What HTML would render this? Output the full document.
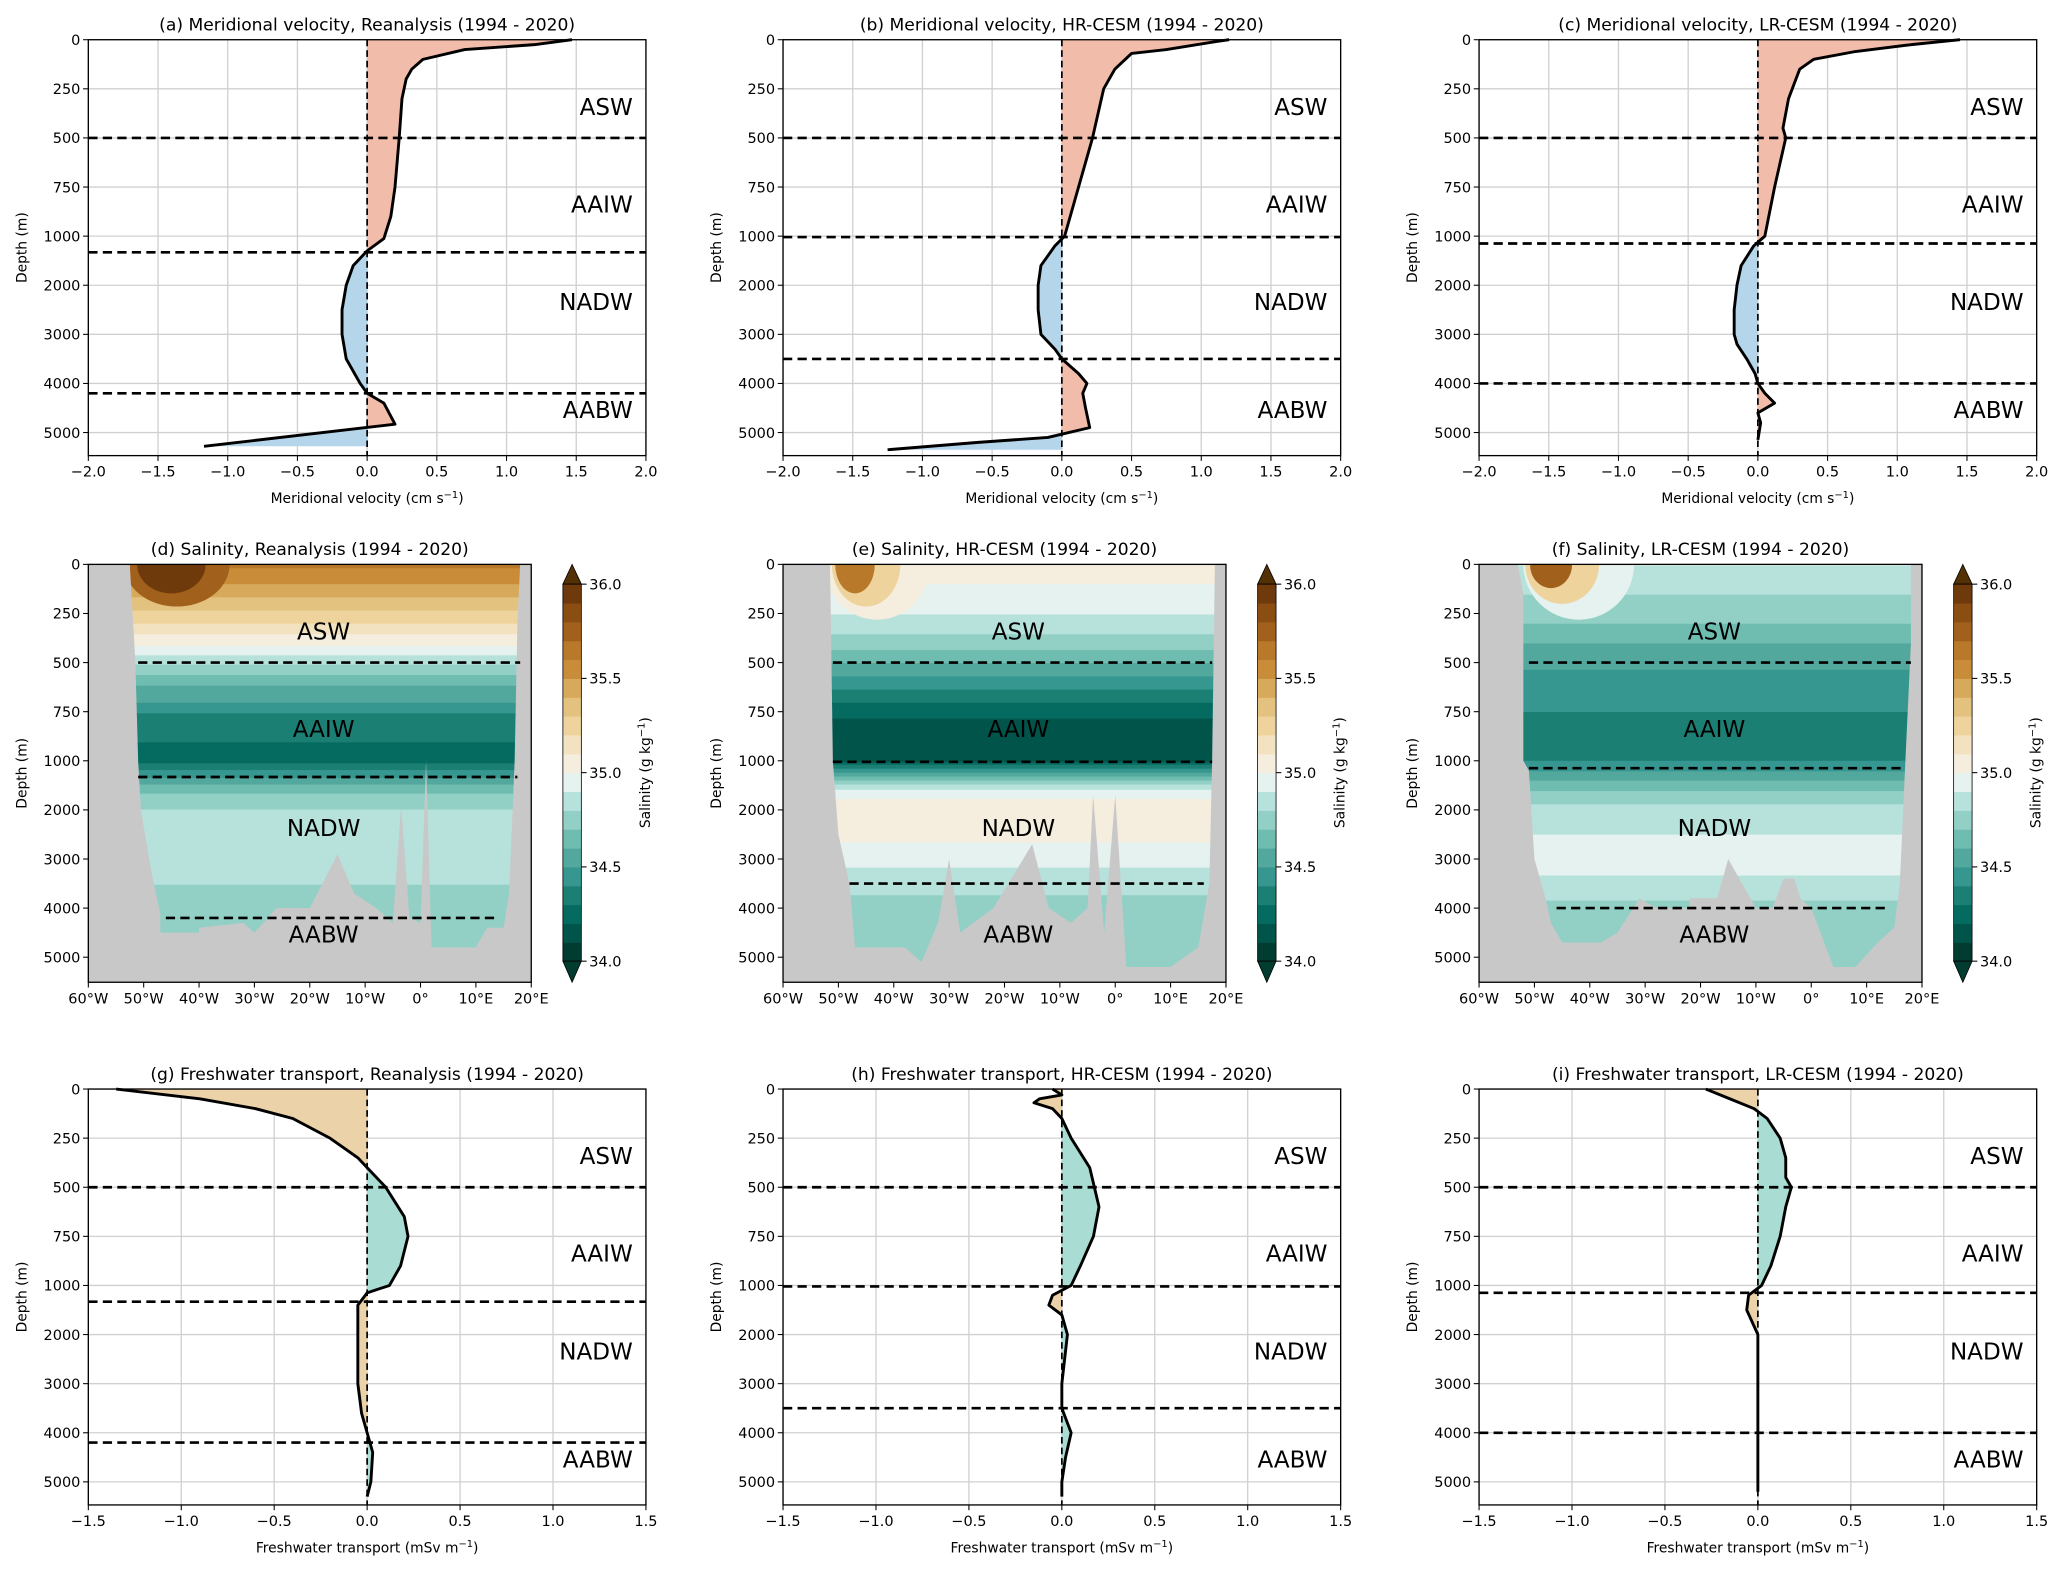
<!DOCTYPE html>
<html><head><meta charset="utf-8"><style>
html,body{margin:0;padding:0;background:#fff;}
svg{display:block;font-family:"DejaVu Sans","Liberation Sans",sans-serif;}
</style></head><body>
<svg id="fig" width="2067" height="1573" viewBox="0 0 1568 1193" xmlns="http://www.w3.org/2000/svg"></svg>
<script>
// ---------- data ----------
const velDepthA=[0,25,50,100,150,200,300,500,750,900,1050,1300,1600,2000,2500,3000,3500,4000,4200,4400,4830,5280];
const velValA=[1.47,1.2,0.7,0.4,0.32,0.28,0.25,0.23,0.2,0.17,0.12,0,-0.1,-0.15,-0.18,-0.18,-0.15,-0.05,0,0.12,0.2,-1.17];
const velDepthB=[0,10,50,70,150,250,500,750,1000,1200,1600,2000,2500,3000,3300,3500,3800,4000,4200,4500,4900,5100,5200,5350];
const velValB=[1.2,1.1,0.75,0.5,0.38,0.3,0.22,0.12,0.02,-0.05,-0.15,-0.17,-0.17,-0.15,-0.05,0,0.12,0.18,0.15,0.17,0.2,-0.1,-0.6,-1.25];
const velDepthC=[0,25,60,100,150,300,450,500,750,1000,1200,1600,2000,2500,3000,3200,3500,3800,4000,4200,4400,4600,4800,5150];
const velValC=[1.45,1.1,0.7,0.4,0.3,0.22,0.18,0.2,0.12,0.05,-0.03,-0.12,-0.15,-0.17,-0.17,-0.15,-0.08,-0.02,0,0.05,0.12,0,0.02,0];
const fwDepthG=[0,50,100,150,250,350,400,500,650,750,900,1000,1150,1400,2000,3000,3600,4000,4400,5000,5300];
const fwValG=[-1.35,-0.9,-0.6,-0.4,-0.2,-0.05,0,0.1,0.2,0.22,0.18,0.12,0,-0.05,-0.05,-0.05,-0.03,0,0.03,0.02,0];
const fwDepthH=[0,30,50,70,100,150,250,400,600,750,900,1000,1200,1400,1600,2000,3000,3500,4000,4500,5000,5300];
const fwValH=[-0.05,0,-0.12,-0.15,-0.05,0,0.05,0.15,0.2,0.17,0.1,0.05,-0.05,-0.07,0,0.03,0,0,0.05,0.02,0,0];
const fwDepthI=[0,50,100,150,250,350,450,500,600,750,900,1000,1200,1500,2000,3000,4000,5200];
const fwValI=[-0.28,-0.15,-0.02,0.05,0.12,0.15,0.15,0.18,0.15,0.12,0.07,0.02,-0.05,-0.06,0,0,0,0];
const velTicks=[-2,-1.5,-1,-0.5,0,0.5,1,1.5,2];
const fwTicks=[-1.5,-1,-0.5,0,0.5,1,1.5];
const depthTicks=[0,250,500,750,1000,2000,3000,4000,5000];
const lonTicks=[-60,-50,-40,-30,-20,-10,0,10,20];
const lonLabels=["60°W","50°W","40°W","30°W","20°W","10°W","0°","10°E","20°E"];
const cbTicks=[34.0,34.5,35.0,35.5,36.0];
const salDepthD=[0,100,200,300,400,450,500,550,600,700,800,1000,1100,1300,1500,1800,2500,3000,3500,4200,5500];
const salValD=[35.62,35.5,35.35,35.2,35.02,34.92,34.82,34.72,34.62,34.5,34.32,34.28,34.35,34.48,34.62,34.78,34.86,34.86,34.8,34.76,34.72];
const salDepthE=[0,200,300,400,500,600,700,800,1000,1100,1300,1500,1800,2500,3000,3300,4000,5500];
const salValE=[35.05,34.95,34.85,34.75,34.6,34.45,34.3,34.18,34.18,34.35,34.6,34.85,35.02,35.02,34.95,34.86,34.76,34.76];
const salDepthF=[0,150,300,400,500,600,800,1000,1100,1300,1600,2000,2500,3000,3600,4000,5500];
const salValF=[34.9,34.8,34.7,34.6,34.52,34.46,34.38,34.4,34.45,34.55,34.7,34.85,34.9,34.95,34.86,34.76,34.76];
const basinD=[[-52.5,0],[-51.5,500],[-51,1000],[-50.5,2000],[-49,3000],[-48,3600],[-47,4100],[-47,4500],[-40,4500],[-40,4400],[-32,4300],[-30,4500],[-26,4000],[-20,4000],[-15,2900],[-12,3700],[-8,4000],[-5,4300],[-3.5,1900],[-2,4200],[0,4300],[1,1000],[2,4800],[10,4800],[12,4400],[15,4400],[16,3700],[17,1000],[17.5,300],[18,0]];
const basinE=[[-51.5,0],[-51,1000],[-50,2500],[-48,3500],[-47,4800],[-38,4800],[-35,5100],[-32,4300],[-30,3000],[-28,4500],[-22,4000],[-15,2700],[-12,4000],[-8,4300],[-5,4000],[-4,1700],[-2,4500],[0,1700],[2,5200],[10,5200],[15,4800],[17,3500],[17.5,1000],[18,0]];
const basinF=[[-53,0],[-52,150],[-52,1000],[-51,1200],[-50,3000],[-48,3800],[-47,4300],[-45,4700],[-38,4700],[-35,4500],[-31,3800],[-28,4000],[-22,4000],[-22,3800],[-17,3800],[-15,3000],[-10,4000],[-7,4000],[-5,3400],[-3,3400],[-2,3800],[0,4000],[4,5200],[8,5200],[12,4700],[15,4400],[16,3500],[17,1000],[18,400],[18,0]];
const cmapColors=["#003c30","#01544a","#056b60","#1c7f74","#35978f","#52a89c","#6fbdb0","#92d0c6","#b7e2dc","#e6f2ef","#f5eedf","#f3e2bf","#eed49c","#e3c17f","#d6a95b","#c98d3a","#b8792b","#a1601b","#8a4e12","#6e3a0b"];

// ---------- helpers ----------
const NS="http://www.w3.org/2000/svg";
const svg=document.getElementById('fig');
function mk(tag,attrs,parent){const e=document.createElementNS(NS,tag);for(const k in attrs)e.setAttribute(k,attrs[k]);(parent||svg).appendChild(e);return e;}
function txt(s,x,y,size,anchor,parent,extra){const t=mk('text',Object.assign({x:x,y:y,'font-size':size,'text-anchor':anchor||'middle',fill:'#000'},extra||{}),parent);t.textContent=s;return t;}
function yDepth(top){return d=>d<=1000?top+d*0.149:top+149+(d-1000)*0.03725;}
function fmt(v){return (v<0?'\u2212':'')+Math.abs(v).toFixed(1);}
function interp(ds,vs,d){if(d<=ds[0])return vs[0];for(let i=1;i<ds.length;i++){if(d<=ds[i]){const f=(d-ds[i-1])/(ds[i]-ds[i-1]);return vs[i-1]+f*(vs[i]-vs[i-1]);}}return vs[vs.length-1];}
function salColor(s){let i=Math.floor((s-34.0)/0.1+1e-6);if(i<0)i=0;if(i>19)i=19;return cmapColors[i];}
let clipId=0;

function depthAxis(g,x0,top,bottom){
  const Y=yDepth(top);
  depthTicks.forEach(d=>{const y=Y(d);mk('line',{x1:x0-4,x2:x0,y1:y,y2:y,stroke:'#000','stroke-width':0.8},g);txt(String(d),x0-6,y+4,11,'end',g);});
  const lab=txt('Depth (m)',0,0,10.5,'middle',g,{transform:`translate(${x0-47},${(top+bottom)/2}) rotate(-90)`});
  
}
function massLabels(g,x,anchor,ys){
  const names=['ASW','AAIW','NADW','AABW'];
  names.forEach((n,i)=>{const t=txt(n,x,ys[i],17.5,anchor,g);});
}
function dashes(g,x1,x2,y){mk('line',{x1:x1,x2:x2,y1:y,y2:y,stroke:'#000','stroke-width':2,'stroke-dasharray':'7,4'},g);}

function profilePanel(opt){
  const g=mk('g',{});
  
  
  const x0=opt.x0,w=423,top=opt.top,bottom=top+315.5,Y=yDepth(top);
  const t0=opt.ticks[0],t1=opt.ticks[opt.ticks.length-1];
  const X=v=>x0+(v-t0)/(t1-t0)*w;
  opt.ticks.forEach(v=>mk('line',{x1:X(v),x2:X(v),y1:top,y2:bottom,stroke:'#d0d0d0','stroke-width':1},g));
  depthTicks.forEach(d=>mk('line',{x1:x0,x2:x0+w,y1:Y(d),y2:Y(d),stroke:'#d0d0d0','stroke-width':1},g));
  const pts=opt.depths.map((d,i)=>[X(opt.vals[i]),Y(d)]);
  const poly=pts.map(p=>p.join(',')).join(' ')+` ${X(0)},${Y(opt.depths[opt.depths.length-1])} ${X(0)},${Y(0)}`;
  const idP='cp'+(clipId++),idN='cp'+(clipId++);
  const defs=mk('defs',{},g);
  const cp=mk('clipPath',{id:idP},defs);mk('rect',{x:X(0),y:top,width:x0+w-X(0),height:bottom-top},cp);
  const cn=mk('clipPath',{id:idN},defs);mk('rect',{x:x0,y:top,width:X(0)-x0,height:bottom-top},cn);
  const fp=mk('polygon',{points:poly,fill:opt.posColor,'clip-path':`url(#${idP})`},g);
  
  const fn=mk('polygon',{points:poly,fill:opt.negColor,'clip-path':`url(#${idN})`},g);
  
  mk('line',{x1:X(0),x2:X(0),y1:top,y2:bottom,stroke:'#000','stroke-width':1.3,'stroke-dasharray':'5,3'},g);
  opt.bounds.forEach(d=>dashes(g,x0,x0+w,Y(d)));
  const ln=mk('polyline',{points:pts.map(p=>p.join(',')).join(' '),fill:'none',stroke:'#000','stroke-width':2.2,'stroke-linejoin':'round'},g);
  
  massLabels(g,x0+w-10,'end',[top+57,top+131,top+205,top+287]);
  mk('rect',{x:x0,y:top,width:w,height:bottom-top,fill:'none',stroke:'#000','stroke-width':1},g);
  opt.ticks.forEach(v=>{mk('line',{x1:X(v),x2:X(v),y1:bottom,y2:bottom+4,stroke:'#000','stroke-width':0.8},g);txt(fmt(v),X(v),bottom+16,11,'middle',g);});
  depthAxis(g,x0,top,bottom);
  const tt=txt(opt.title,x0+w/2,top-7,13,'middle',g);
  const xl=txt(opt.xlabel,x0+w/2,bottom+36,10.5,'middle',g);
  const sup=mk('tspan',{dy:-4,'font-size':7.5},xl);sup.textContent='\u22121';const cl=mk('tspan',{dy:4},xl);cl.textContent=')';
}

function salPanel(opt){
  const g=mk('g',{});
  
  
  const x0=opt.x0,w=336,top=428,bottom=top+317,Y=yDepth(top);
  const X=lon=>x0+(lon+60)/80*w;
  mk('rect',{x:x0,y:top,width:w,height:bottom-top,fill:'#c8c8c8'},g);
  const id='cb'+(clipId++);
  const defs=mk('defs',{},g);
  const cp=mk('clipPath',{id:id},defs);
  mk('polygon',{points:opt.basin.map(p=>X(p[0])+','+Y(p[1])).join(' ')},cp);
  const bg=mk('g',{'clip-path':`url(#${id})`},g);
  
  let prev=null,start=top;
  for(let y=top;y<=bottom+1;y+=1){
    const d=y-top<=149?(y-top)/0.149:1000+(y-top-149)/0.03725;
    const c=y>bottom?null:salColor(interp(opt.depths,opt.vals,d));
    if(c!==prev){if(prev)mk('rect',{x:x0,y:start,width:w,height:y-start+0.6,fill:prev},bg);prev=c;start=y;}
  }
  opt.blob.forEach(b=>mk('ellipse',{cx:X(b[0]),cy:top,rx:b[1],ry:b[2],fill:salColor(b[3])},bg));
  opt.bounds.forEach(b=>dashes(g,X(b[1]),X(b[2]),Y(b[0])));
  massLabels(g,X(opt.labelLon),'middle',[top+57,top+131,top+206,top+287]);
  mk('rect',{x:x0,y:top,width:w,height:bottom-top,fill:'none',stroke:'#000','stroke-width':1},g);
  lonTicks.forEach((l,i)=>{mk('line',{x1:X(l),x2:X(l),y1:bottom,y2:bottom+4,stroke:'#000','stroke-width':0.8},g);txt(lonLabels[i],X(l),bottom+16,11,'middle',g);});
  depthAxis(g,x0,top,bottom);
  const tt=txt(opt.title,x0+w/2,top-7,13,'middle',g);
  const cb=mk('g',{},g);
  
  const cx=x0+360,cw=14,cyTop=443,cyBot=729;
  const CY=s=>cyBot-(s-34)/2*(cyBot-cyTop);
  cmapColors.forEach((c,i)=>mk('rect',{x:cx,y:CY(34+(i+1)*0.1),width:cw,height:(cyBot-cyTop)/20+0.4,fill:c},cb));
  mk('polygon',{points:`${cx},${cyTop} ${cx+cw},${cyTop} ${cx+cw/2},${top}`,fill:'#543005',stroke:'#000','stroke-width':0.6},cb);
  mk('polygon',{points:`${cx},${cyBot} ${cx+cw},${cyBot} ${cx+cw/2},${bottom}`,fill:'#003c30',stroke:'#000','stroke-width':0.6},cb);
  mk('rect',{x:cx,y:cyTop,width:cw,height:cyBot-cyTop,fill:'none',stroke:'#000','stroke-width':0.6},cb);
  cbTicks.forEach(s=>{mk('line',{x1:cx+cw,x2:cx+cw+4,y1:CY(s),y2:CY(s),stroke:'#000','stroke-width':0.8},cb);txt(s.toFixed(1),cx+cw+6,CY(s)+4,11,'start',cb);});
  const cl=txt('Salinity (g kg',0,0,10.5,'middle',cb,{transform:`translate(${cx+cw+52},${(cyTop+cyBot)/2}) rotate(-90)`});
  const sp=mk('tspan',{dy:-4,'font-size':7.5},cl);sp.textContent='\u22121';const c2=mk('tspan',{dy:4},cl);c2.textContent=')';
}

// ---------- build ----------
const cols=[67,594,1122];
profilePanel({name:'panel-a',x0:cols[0],top:30,ticks:velTicks,depths:velDepthA,vals:velValA,bounds:[500,1330,4200],posColor:'#f2bcab',negColor:'#b5d6ea',title:'(a) Meridional velocity, Reanalysis (1994 - 2020)',xlabel:'Meridional velocity (cm s'});
profilePanel({name:'panel-b',x0:cols[1],top:30,ticks:velTicks,depths:velDepthB,vals:velValB,bounds:[500,1020,3500],posColor:'#f2bcab',negColor:'#b5d6ea',title:'(b) Meridional velocity, HR-CESM (1994 - 2020)',xlabel:'Meridional velocity (cm s'});
profilePanel({name:'panel-c',x0:cols[2],top:30,ticks:velTicks,depths:velDepthC,vals:velValC,bounds:[500,1150,4000],posColor:'#f2bcab',negColor:'#b5d6ea',title:'(c) Meridional velocity, LR-CESM (1994 - 2020)',xlabel:'Meridional velocity (cm s'});
salPanel({name:'panel-d',x0:cols[0],basin:basinD,depths:salDepthD,vals:salValD,bounds:[[500,-51,18],[1330,-51,17.5],[4200,-46,14]],labelLon:-17.5,title:'(d) Salinity, Reanalysis (1994 - 2020)',blob:[[-44,40,32,35.75],[-45,26,22,35.9]]});
salPanel({name:'panel-e',x0:cols[1],basin:basinE,depths:salDepthE,vals:salValE,bounds:[[500,-51,17.5],[1020,-51,17.5],[3500,-48,16]],labelLon:-17.5,title:'(e) Salinity, HR-CESM (1994 - 2020)',blob:[[-43,40,42,35.05],[-45,26,32,35.25],[-47,15,22,35.6]]});
salPanel({name:'panel-f',x0:cols[2],basin:basinF,depths:salDepthF,vals:salValF,bounds:[[500,-51,18],[1150,-51,17],[4000,-46,14]],labelLon:-17.5,title:'(f) Salinity, LR-CESM (1994 - 2020)',blob:[[-42,42,42,34.95],[-45,28,30,35.2],[-47,16,18,35.7]]});
profilePanel({name:'panel-g',x0:cols[0],top:826,ticks:fwTicks,depths:fwDepthG,vals:fwValG,bounds:[500,1330,4200],posColor:'#a9dcd3',negColor:'#ebd2a8',title:'(g) Freshwater transport, Reanalysis (1994 - 2020)',xlabel:'Freshwater transport (mSv m'});
profilePanel({name:'panel-h',x0:cols[1],top:826,ticks:fwTicks,depths:fwDepthH,vals:fwValH,bounds:[500,1020,3500],posColor:'#a9dcd3',negColor:'#ebd2a8',title:'(h) Freshwater transport, HR-CESM (1994 - 2020)',xlabel:'Freshwater transport (mSv m'});
profilePanel({name:'panel-i',x0:cols[2],top:826,ticks:fwTicks,depths:fwDepthI,vals:fwValI,bounds:[500,1150,4000],posColor:'#a9dcd3',negColor:'#ebd2a8',title:'(i) Freshwater transport, LR-CESM (1994 - 2020)',xlabel:'Freshwater transport (mSv m'});
</script>
</body></html>
